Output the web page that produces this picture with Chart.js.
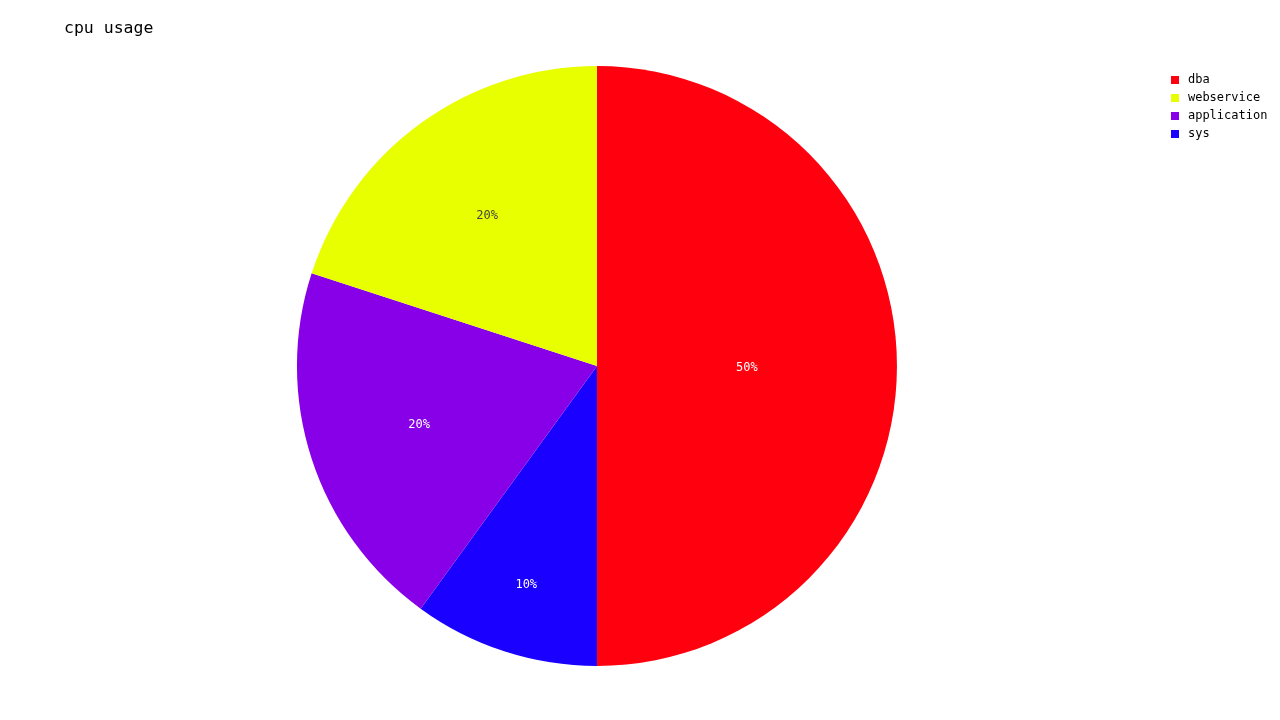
<!DOCTYPE html>
<html>
<head>
<meta charset="utf-8">
<script src="https://cdn.jsdelivr.net/npm/chart.js@4.4.0/dist/chart.umd.min.js"></script>
<style>
  html, body { margin: 0; padding: 0; background: #fff; }
  #wrap { width: 1280px; height: 720px; }
</style>
</head>
<body>
<div id="wrap"><canvas id="myChart" width="1280" height="720"></canvas></div>
<script>
// slices in drawing order (clockwise from top)
const categorias = ['dba', 'sys', 'application', 'webservice'];
const valores = [50, 10, 20, 20];
// order shown in the legend
const ordenLeyenda = ['dba', 'webservice', 'application', 'sys'];
const titulo = 'cpu usage';

const colores = ['#ff000e', '#1a00ff', '#8800e8', '#e8ff00'];
const coloresTexto = ['#ffffff', '#ffffff', '#ffffff', '#444444'];
const fuente = "'DejaVu Sans Mono', monospace";

// small square used as legend marker
const cuadrito = (color) => {
   const c = document.createElement('canvas');
   c.width = 8;
   c.height = 8;
   const g = c.getContext('2d');
   g.fillStyle = color;
   g.fillRect(0, 0, 8, 8);
   return c;
};

const tituloPlugin = {
   id: 'tituloPlugin',
   afterDraw(chart) {
      const ctx = chart.ctx;
      ctx.save();
      ctx.font = '16.5px ' + fuente;
      ctx.fillStyle = '#000';
      ctx.textBaseline = 'middle';
      ctx.textAlign = 'left';
      ctx.fillText(titulo, 64, 28.5);
      ctx.restore();
   }
};

const etiquetasPlugin = {
   id: 'etiquetasPlugin',
   afterDatasetsDraw(chart) {
      const ctx = chart.ctx;
      const meta = chart.getDatasetMeta(0);
      const total = valores.reduce((a, b) => a + b, 0);
      ctx.save();
      ctx.font = '12px ' + fuente;
      ctx.textAlign = 'center';
      ctx.textBaseline = 'middle';
      meta.data.forEach((arc, i) => {
         const p = valores[i] / total;
         const mid = (arc.startAngle + arc.endAngle) / 2;
         // small slices get their label pushed further out
         const d = arc.outerRadius * (0.287 + 0.1505 / Math.sqrt(p));
         const x = arc.x + Math.cos(mid) * d;
         const y = arc.y + Math.sin(mid) * d + 1.5;
         ctx.fillStyle = coloresTexto[i];
         ctx.fillText(Math.round(p * 100) + '%', x, y);
      });
      ctx.restore();
   }
};

var canva = document.getElementById('myChart');
var myChart = new Chart(canva, {
   type: 'pie',
   data: {
      labels: categorias,
      datasets: [
         {
            data: valores,
            backgroundColor: colores,
            borderWidth: 0,
            hoverOffset: 0
         }
      ]
   },
   options: {
      responsive: false,
      animation: false,
      events: [],
      layout: {
         padding: { left: 32, right: 2.6, top: 66, bottom: 54 }
      },
      plugins: {
         tooltip: { enabled: false },
         title: { display: false },
         legend: {
            position: 'right',
            align: 'start',
            title: {
               display: true,
               text: ' ',
               font: { size: 1 },
               padding: { top: 0, bottom: 0.8 }
            },
            labels: {
               usePointStyle: true,
               pointStyleWidth: 14,
               boxHeight: 8,
               padding: 6,
               color: '#000',
               font: { family: fuente, size: 12 },
               generateLabels: (chart) => {
                  const items = Chart.overrides.pie.plugins.legend.labels.generateLabels(chart);
                  items.forEach(it => { it.pointStyle = cuadrito(colores[it.index]); });
                  return items;
               },
               sort: (a, b) => ordenLeyenda.indexOf(a.text) - ordenLeyenda.indexOf(b.text)
            }
         }
      }
   },
   plugins: [tituloPlugin, etiquetasPlugin]
});
</script>
</body>
</html>
